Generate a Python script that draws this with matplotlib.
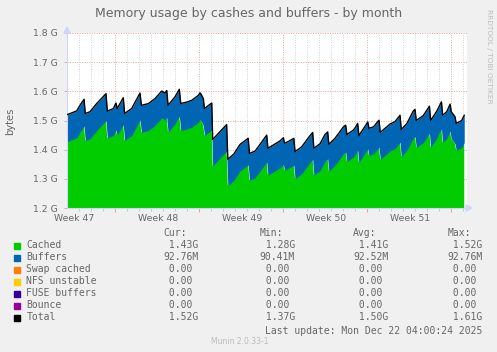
import numpy as np
import matplotlib
matplotlib.use("Agg")
import matplotlib.pyplot as plt
from matplotlib.patches import Polygon, Rectangle

W, H = 497, 352

# time in days since the left edge of the graph (33 days shown)
days = [0.00, 0.39, 0.81, 1.08, 1.42, 1.52, 1.92, 2.47, 3.25, 3.36,
        3.86, 4.08, 4.18, 4.69, 4.80, 5.39, 6.08, 6.20, 6.78, 7.33,
        7.89, 8.17, 8.31, 8.42, 9.00, 9.36, 9.48, 9.97, 10.39, 10.94,
        11.08, 11.20, 11.36, 11.45, 12.06, 12.14, 13.30, 13.40, 13.90, 14.42,
        15.10, 15.20, 15.67, 16.08, 16.64, 16.74, 17.19, 17.75, 18.03, 18.13,
        18.44, 18.90, 19.00, 19.56, 20.25, 20.47, 20.57, 21.08, 21.50, 21.72,
        21.82, 22.33, 23.03, 23.22, 23.32, 23.86, 24.06, 24.22, 24.32, 24.83,
        25.06, 25.16, 25.53, 26.00, 26.10, 26.64, 26.92, 27.33, 27.75, 27.85,
        28.31, 28.86, 29.00, 29.10, 29.69, 30.20, 30.30, 30.81, 31.20, 31.30,
        31.64, 31.92, 32.02, 32.33, 32.43, 32.89, 33.10]

# total (cached + buffers) in GB
total_g = [1.520, 1.526, 1.533, 1.552, 1.573, 1.524, 1.530, 1.558, 1.592, 1.532,
           1.541, 1.560, 1.541, 1.578, 1.524, 1.541, 1.594, 1.552, 1.558, 1.575,
           1.601, 1.594, 1.603, 1.552, 1.581, 1.607, 1.558, 1.563, 1.569, 1.586,
           1.595, 1.588, 1.575, 1.541, 1.560, 1.435, 1.486, 1.367, 1.385, 1.418,
           1.439, 1.387, 1.395, 1.418, 1.450, 1.405, 1.416, 1.430, 1.441, 1.422,
           1.428, 1.439, 1.393, 1.410, 1.448, 1.459, 1.405, 1.420, 1.452, 1.461,
           1.418, 1.439, 1.478, 1.484, 1.452, 1.467, 1.478, 1.490, 1.448, 1.480,
           1.495, 1.473, 1.478, 1.501, 1.459, 1.478, 1.488, 1.496, 1.518, 1.469,
           1.489, 1.533, 1.538, 1.500, 1.517, 1.549, 1.500, 1.532, 1.564, 1.518,
           1.530, 1.556, 1.530, 1.513, 1.490, 1.500, 1.518]

# buffers in MB
buffers_m = [92.7, 92.7, 92.6, 92.6, 92.6, 92.6, 92.6, 92.6, 92.5, 92.5,
             92.5, 92.5, 92.5, 92.5, 92.5, 92.5, 92.5, 92.5, 92.5, 92.5,
             92.5, 92.5, 92.5, 92.5, 92.5, 92.5, 92.5, 92.5, 92.5, 92.5,
             92.5, 92.5, 92.5, 92.5, 92.5, 91.2, 90.8, 90.4, 90.6, 91.0,
             91.5, 91.8, 92.0, 92.2, 92.3, 92.3, 92.4, 92.4, 92.4, 92.4,
             92.5, 92.5, 92.5, 92.5, 92.5, 92.5, 92.5, 92.5, 92.5, 92.5,
             92.5, 92.5, 92.5, 92.5, 92.5, 92.5, 92.5, 92.5, 92.5, 92.5,
             92.6, 92.6, 92.6, 92.6, 92.6, 92.6, 92.6, 92.6, 92.6, 92.6,
             92.6, 92.6, 92.7, 92.7, 92.7, 92.7, 92.7, 92.7, 92.7, 92.7,
             92.7, 92.7, 92.8, 92.8, 92.8, 92.8, 92.8]

yticks = [1.2, 1.3, 1.4, 1.5, 1.6, 1.7, 1.8]
ytick_labels = ["1.2 G", "1.3 G", "1.4 G", "1.5 G", "1.6 G", "1.7 G", "1.8 G"]
week_pos = [0.58, 7.58, 14.58, 21.58, 28.58]
week_labels = ["Week 47", "Week 48", "Week 49", "Week 50", "Week 51"]
week_lines = [4, 11, 18, 25, 32]

legend_names = ["Cached", "Buffers", "Swap cached", "NFS unstable",
                "FUSE buffers", "Bounce", "Total"]
legend_colors = ["#00CC00", "#0066B3", "#FF8000", "#FFCC00",
                 "#330099", "#990099", "#000000"]
cur_vals = [" 1.43G", "92.76M", " 0.00", " 0.00", " 0.00", " 0.00", " 1.52G"]
min_vals = [" 1.28G", "90.41M", " 0.00", " 0.00", " 0.00", " 0.00", " 1.37G"]
avg_vals = [" 1.41G", "92.52M", " 0.00", " 0.00", " 0.00", " 0.00", " 1.50G"]
max_vals = [" 1.52G", "92.76M", " 0.00", " 0.00", " 0.00", " 0.00", " 1.61G"]

days = np.array(days)
total = np.array(total_g)
cached = total - np.array(buffers_m) / 1000.0

def fx(x):
    return x / W

def fy(y):
    return 1 - y / H

font_col = "#666666"
axis_col = "#CFD6F8"

fig = plt.figure(figsize=(W / 100, H / 100), dpi=100, facecolor="#F0F0F0")
ax = fig.add_axes([fx(67), fy(208), fx(467) - fx(67), fy(33) - fy(208)])
ax.set_facecolor("white")

ax.fill_between(days, 0, cached, color=legend_colors[0], lw=0, zorder=2)
ax.fill_between(days, cached, total, color=legend_colors[1], lw=0, zorder=2)
ax.plot(days, total, color="black", lw=1.0, zorder=3)

ax.set_xlim(0, 33.33)
ax.set_ylim(1.2, 1.8)

# grid: daily minor lines, weekly major lines
minor_days = [d for d in range(1, 34) if d not in week_lines]
ax.set_xticks(week_lines)
ax.set_xticks(minor_days, minor=True)
ax.set_xticklabels([])
ax.set_yticks(yticks)
ax.set_yticklabels(ytick_labels)
ax.set_axisbelow(True)
ax.grid(which="minor", axis="x", color="#D0D0D0", linestyle=(0, (1, 1.5)), lw=0.7)
ax.grid(which="major", axis="x", color="#F0A0A0", linestyle=(0, (1, 1.5)), lw=0.7)
ax.grid(which="major", axis="y", color="#F0A0A0", linestyle=(0, (1, 1.5)), lw=0.7)

ax.tick_params(axis="x", which="major", length=3, color="#F0A0A0", width=0.7)
ax.tick_params(axis="x", which="minor", length=2, color="#C8C8C8", width=0.7)
ax.tick_params(axis="y", length=2, color="#F0A0A0", width=0.7, pad=5,
               labelsize=6.7, labelcolor=font_col)

for s in ["top", "right"]:
    ax.spines[s].set_visible(False)
for s in ["bottom", "left"]:
    ax.spines[s].set_color(axis_col)
    ax.spines[s].set_linewidth(0.8)

for p, lab in zip(week_pos, week_labels):
    ax.annotate(lab, xy=(p, 0), xycoords=("data", "axes fraction"),
                xytext=(0, -4), textcoords="offset points", ha="center", va="top",
                fontsize=6.7, color=font_col)

# axis arrows
fig.add_artist(Polygon([[fx(466), fy(205)], [fx(466), fy(211)], [fx(472), fy(208)]],
                       closed=True, color=axis_col, transform=fig.transFigure))
fig.add_artist(Polygon([[fx(64), fy(33)], [fx(70), fy(33)], [fx(67), fy(27)]],
                       closed=True, color=axis_col, transform=fig.transFigure))

fig.text(0.5, fy(13), "Memory usage by cashes and buffers - by month",
         ha="center", va="center", fontsize=9, color=font_col)
fig.text(fx(10), fy(121), "bytes", rotation=90, ha="center", va="center",
         fontsize=7.2, color=font_col)
fig.text(fx(489), fy(56), "RRDTOOL / TOBI OETIKER", rotation=270,
         ha="center", va="center", fontsize=5.3, color="#BBBBBB")

# legend
mono = "DejaVu Sans Mono"
cols = [163.3, 259.5, 353.3, 447.3]
headers = ["Cur:", "Min:", "Avg:", "Max:"]
for c, h in zip(cols, headers):
    fig.text(fx(c), fy(233.5), h, ha="left", va="center", family=mono,
             fontsize=7.05, color=font_col)

for i, name in enumerate(legend_names):
    yc = 245.5 + 12 * i
    fig.add_artist(Rectangle((fx(14), fy(yc + 3)), 6 / W, 6 / H,
                             color=legend_colors[i], transform=fig.transFigure))
    fig.text(fx(26.5), fy(yc), name, ha="left", va="center", family=mono,
             fontsize=7.05, color=font_col)
    for c, vals in zip(cols, [cur_vals, min_vals, avg_vals, max_vals]):
        fig.text(fx(c), fy(yc), vals[i], ha="left", va="center", family=mono,
                 fontsize=7.05, color=font_col)

fig.text(fx(482.5), fy(330.5), "Last update: Mon Dec 22 04:00:24 2025",
         ha="right", va="center", family=mono, fontsize=7.05, color=font_col)
fig.text(fx(240), fy(341), "Munin 2.0.33-1", ha="center", va="center",
         fontsize=5.5, color="#BBBBBB")

fig.savefig("out.png", dpi=100, facecolor=fig.get_facecolor())
